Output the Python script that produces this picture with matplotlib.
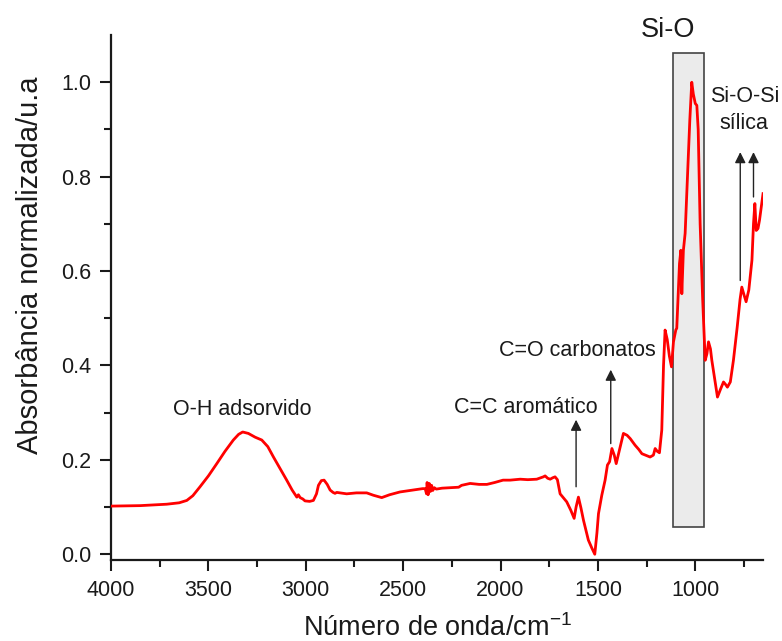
import numpy as np
import matplotlib
matplotlib.use('Agg')
import matplotlib.pyplot as plt
from matplotlib.patches import Rectangle
from matplotlib.ticker import MultipleLocator

plt.rcParams['font.family'] = ['Liberation Sans', 'DejaVu Sans']

# FTIR spectrum (wavenumber in cm-1, normalised absorbance)
wavenumber = [4000, 3850, 3714, 3650, 3611, 3580, 3543, 3500, 3457, 3415, 3372, 3345,
              3324, 3295, 3260, 3226, 3195, 3166, 3130, 3098, 3070, 3046, 3038, 3029,
              3015, 3004, 2980, 2961, 2945, 2935, 2920, 2906, 2890, 2875, 2860, 2850,
              2841, 2790, 2740, 2687, 2653, 2610, 2570, 2516, 2450, 2400, 2387, 2380,
              2377, 2372, 2366, 2360, 2354, 2348, 2340, 2330, 2300, 2259, 2215, 2200,
              2156, 2110, 2070, 2030, 1987, 1951, 1899, 1860, 1814, 1780, 1771, 1758,
              1745, 1732, 1720, 1708, 1694, 1660, 1639, 1622, 1612, 1600, 1587, 1574,
              1549, 1531, 1516, 1505, 1497, 1480, 1463, 1451, 1440, 1428, 1416, 1406,
              1390, 1369, 1350, 1334, 1309, 1290, 1274, 1250, 1232, 1215, 1206, 1195,
              1184, 1172, 1163, 1155, 1144, 1133, 1122, 1112, 1100, 1095, 1081, 1074,
              1069, 1061, 1052, 1040, 1028, 1018, 1010, 1000, 992, 985, 975, 962, 949,
              940, 932, 922, 915, 900, 886, 870, 855, 845, 835, 820, 804, 785, 770,
              761, 750, 739, 725, 709, 701, 694, 687, 678, 670, 660, 652]
absorbance = [0.102, 0.103, 0.106, 0.109, 0.114, 0.124, 0.143, 0.166, 0.192, 0.218, 0.242,
              0.254, 0.259, 0.256, 0.248, 0.242, 0.228, 0.206, 0.180, 0.157, 0.136, 0.121,
              0.126, 0.120, 0.117, 0.113, 0.112, 0.114, 0.128, 0.146, 0.156, 0.157, 0.148,
              0.136, 0.131, 0.129, 0.131, 0.128, 0.130, 0.130, 0.125, 0.120, 0.126, 0.132,
              0.136, 0.139, 0.139, 0.128, 0.152, 0.126, 0.150, 0.133, 0.146, 0.135, 0.141,
              0.138, 0.140, 0.141, 0.142, 0.146, 0.150, 0.148, 0.148, 0.152, 0.157, 0.157,
              0.159, 0.158, 0.159, 0.164, 0.166, 0.161, 0.159, 0.162, 0.164, 0.158, 0.128,
              0.111, 0.093, 0.076, 0.100, 0.121, 0.098, 0.072, 0.030, 0.013, 0.000, 0.045,
              0.086, 0.125, 0.157, 0.189, 0.196, 0.224, 0.210, 0.192, 0.220, 0.256, 0.252,
              0.245, 0.231, 0.222, 0.213, 0.209, 0.206, 0.210, 0.224, 0.218, 0.215, 0.263,
              0.400, 0.475, 0.455, 0.420, 0.397, 0.450, 0.475, 0.479, 0.616, 0.644, 0.552,
              0.644, 0.680, 0.800, 0.920, 1.000, 0.975, 0.955, 0.951, 0.900, 0.700, 0.540,
              0.411, 0.425, 0.450, 0.435, 0.411, 0.370, 0.333, 0.350, 0.365, 0.360, 0.354,
              0.365, 0.411, 0.480, 0.540, 0.566, 0.550, 0.535, 0.560, 0.623, 0.700, 0.743,
              0.686, 0.690, 0.708, 0.740, 0.764]

# annotation labels: text, x, y
labels = ['O-H adsorvido', 'C=C aromático', 'C=O carbonatos', 'Si-O-Si', 'sílica']
label_x = [3325, 1870, 1603, 744, 750]
label_y = [0.307, 0.310, 0.432, 0.969, 0.9125]

# arrows: x, tail y, tip y
arrow_x = [1612, 1434, 769, 701]
arrow_y0 = [0.143, 0.2345, 0.580, 0.757]
arrow_y1 = [0.285, 0.391, 0.852, 0.852]

# Si-O band region
band_lo, band_hi = 953, 1115
band_bottom, band_top = 0.058, 1.063

fig = plt.figure(figsize=(7.82, 6.41), dpi=100)
ax = fig.add_axes([0.142, 0.126, 0.834, 0.819])

ax.add_patch(Rectangle((band_lo, band_bottom), band_hi - band_lo, band_top - band_bottom,
                       facecolor='#ebebeb', edgecolor='#444444', linewidth=1.2, zorder=1))
ax.plot(wavenumber, absorbance, color='#ff0000', linewidth=2.0, zorder=3)

for t, x, y in zip(labels, label_x, label_y):
    ax.text(x, y, t, ha='center', va='center', fontsize=15.5, color='#1a1a1a',
            clip_on=False)
ax.text(1139, 1.11, 'Si-O', ha='center', va='center', fontsize=19.5, color='#1a1a1a',
        clip_on=False)

for x, y0, y1 in zip(arrow_x, arrow_y0, arrow_y1):
    ax.annotate('', xy=(x, y1), xytext=(x, y0),
                arrowprops=dict(arrowstyle='-|>', color='#222222', lw=1.0,
                                mutation_scale=16, shrinkA=0, shrinkB=0))

ax.set_xlim(4000, 651)
ax.set_ylim(-0.0127, 1.0996)
ax.xaxis.set_major_locator(MultipleLocator(500))
ax.xaxis.set_minor_locator(MultipleLocator(250))
ax.yaxis.set_major_locator(MultipleLocator(0.2))
ax.yaxis.set_minor_locator(MultipleLocator(0.1))
ax.yaxis.set_major_formatter(matplotlib.ticker.FormatStrFormatter('%.1f'))
ax.tick_params(which='major', direction='out', length=8, width=1.5, labelsize=15.5,
               colors='#1a1a1a', pad=6)
ax.tick_params(which='minor', direction='out', length=5, width=1.5, colors='#1a1a1a')
for s in ['top', 'right']:
    ax.spines[s].set_visible(False)
for s in ['left', 'bottom']:
    ax.spines[s].set_linewidth(1.6)
    ax.spines[s].set_color('#1a1a1a')

ax.set_xlabel('Número de onda/cm$^{\\mathregular{-1}}$', fontsize=19.5, color='#1a1a1a',
              labelpad=10)
ax.set_ylabel('Absorbância normalizada/u.a', fontsize=21, color='#1a1a1a')
ax.yaxis.set_label_coords(-0.103, 0.562)

fig.savefig('out.png', dpi=100)
